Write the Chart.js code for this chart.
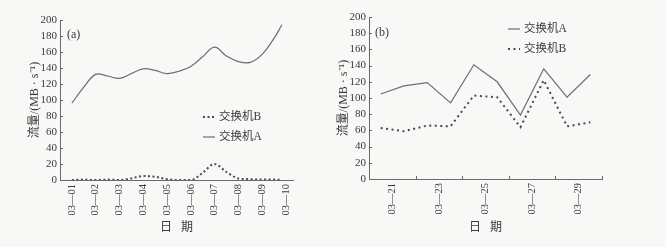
<!DOCTYPE html>
<html>
<head>
<meta charset="utf-8">
<script src="https://cdn.jsdelivr.net/npm/chart.js@4.4.1/dist/chart.umd.min.js"></script>
<style>
  html, body { margin: 0; padding: 0; background: #f8f8f7; }
  .panel { position: absolute; top: 0; width: 333px; height: 247px; }
  #wrapA { left: 0; }
  #wrapB { left: 333px; }
</style>
</head>
<body>
<div class="panel" id="wrapA"><canvas id="chartA" width="333" height="247"></canvas></div>
<div class="panel" id="wrapB"><canvas id="chartB" width="333" height="247"></canvas></div>
<script>
/* ================================
   Data - panel (a)
================================ */
// hours since 03-01 00:00
const hoursA = [0, 12, 24, 36, 48, 60, 72, 84, 96, 108, 120, 132, 144, 156, 168, 180, 192, 204, 212];
const trafficA_a = [96, 116, 132, 130, 127, 133, 139, 137, 133, 136, 142, 154, 166, 155, 148, 147, 157, 177, 194];
const trafficB_a = [0, 0.5, 0, 0.5, 0, 2, 5, 4, 1, 0, 0, 9, 20, 10, 2, 1, 0.5, 0.5, 0];
const tickDaysA = [1, 2, 3, 4, 5, 6, 7, 8, 9, 10];
const tickLabelsA = ["03—01", "03—02", "03—03", "03—04", "03—05", "03—06", "03—07", "03—08", "03—09", "03—10"];

/* ================================
   Data - panel (b)
================================ */
const daysB = [20, 21, 22, 23, 24, 25, 26, 27, 28, 29];
const trafficA_b = [105, 115, 119, 94, 141, 120, 79, 136, 101, 129];
const trafficB_b = [63, 59, 66, 65, 103, 101, 64, 122, 65, 70];
const tickDaysB = [21, 23, 25, 27, 29];
const tickLabelsB = ["03—21", "03—23", "03—25", "03—27", "03—29"];
const minorDaysB = [22, 24, 26, 28, 30];

const yTitle = "流量/(MB · s⁻¹)";
const xTitle = "日   期";

/* ================================
   Style
================================ */
const FONT = "'Liberation Serif', 'Noto Sans CJK SC', serif";
const TEXT = "#3a3a3a";
const AXIS = "#6a6a6a";

/* ================================
   Plugin: inward ticks, legend, panel letter
================================ */
const decorations = {
  id: "decorations",
  afterDraw(chart, args, opts) {
    const { ctx, chartArea, scales } = chart;
    ctx.save();
    ctx.strokeStyle = AXIS;
    ctx.lineWidth = 1;

    scales.y.ticks.forEach(t => {
      const y = Math.round(scales.y.getPixelForValue(t.value)) + 0.5;
      ctx.beginPath();
      ctx.moveTo(chartArea.left, y);
      ctx.lineTo(chartArea.left + 3, y);
      ctx.stroke();
    });

    (opts.xMinor || []).forEach(v => {
      const x = Math.round(scales.x.getPixelForValue(v)) + 0.5;
      ctx.beginPath();
      ctx.moveTo(x, chartArea.bottom);
      ctx.lineTo(x, chartArea.bottom - 3);
      ctx.stroke();
    });

    ctx.fillStyle = TEXT;
    ctx.textBaseline = "middle";
    ctx.font = "12px " + FONT;
    ctx.fillText(opts.letter, opts.letterX, opts.letterY);

    // legend rows
    ctx.font = "11.5px " + FONT;
    opts.legendOrder.forEach((idx, i) => {
      const ds = chart.data.datasets[idx];
      const y = opts.legendY + i * 20;
      ctx.save();
      ctx.strokeStyle = ds.borderColor;
      ctx.lineWidth = ds.borderWidth;
      ctx.setLineDash(ds.borderDash || []);
      ctx.beginPath();
      ctx.moveTo(opts.legendX, y);
      ctx.lineTo(opts.legendX + 12, y);
      ctx.stroke();
      ctx.restore();
      ctx.fillText(ds.label, opts.legendX + 16, y);
    });
    ctx.restore();
  }
};

/* ================================
   Builder
================================ */
function makeChart(id, cfg) {
  return new Chart(document.getElementById(id), {
    type: "line",
    data: { datasets: cfg.datasets },
    options: {
      responsive: false,
      animation: false,
      layout: { padding: cfg.padding },
      plugins: {
        legend: { display: false },
        tooltip: { enabled: false },
        decorations: cfg.deco
      },
      elements: { point: { radius: 0 } },
      scales: {
        x: {
          type: "linear",
          min: cfg.xMin,
          max: cfg.xMax,
          afterBuildTicks: s => { s.ticks = cfg.tickDays.map(v => ({ value: v })); },
          afterFit: s => { s.height = cfg.xHeight; },
          grid: { display: false, drawTicks: false },
          border: { display: true, color: AXIS, width: 1 },
          ticks: {
            autoSkip: false,
            minRotation: 90,
            maxRotation: 90,
            padding: 4,
            color: TEXT,
            font: { family: FONT, size: 10.5 },
            callback: (v, i) => cfg.tickLabels[i]
          },
          title: {
            display: true,
            text: xTitle,
            color: TEXT,
            font: { family: FONT, size: 12 },
            padding: { top: 0, bottom: 12 }
          }
        },
        y: {
          min: 0,
          max: 200,
          afterFit: s => { s.width = cfg.yWidth; },
          grid: { display: false, drawTicks: false },
          border: { display: true, color: AXIS, width: 1 },
          ticks: {
            stepSize: 20,
            autoSkip: false,
            padding: 3,
            color: TEXT,
            font: { family: FONT, size: 11 }
          },
          title: {
            display: true,
            text: yTitle,
            color: TEXT,
            font: { family: FONT, size: 12 },
            padding: { top: cfg.yTitlePad, bottom: 0 }
          }
        }
      }
    },
    plugins: [decorations]
  });
}

/* ================================
   Panel (a)
================================ */
makeChart("chartA", {
  padding: { left: 0, right: 40, top: 20, bottom: 0 },
  xMin: 0.5,
  xMax: 10.3,
  xHeight: 67,
  yWidth: 60,
  yTitlePad: 28,
  tickDays: tickDaysA,
  tickLabels: tickLabelsA,
  datasets: [
    {
      label: "交换机A",
      data: hoursA.map((h, i) => ({ x: 1 + h / 24, y: trafficA_a[i] })),
      borderColor: "#6e6e6e",
      borderWidth: 1.2,
      tension: 0.4
    },
    {
      label: "交换机B",
      data: hoursA.map((h, i) => ({ x: 1 + h / 24, y: trafficB_a[i] })),
      borderColor: "#4a4a4a",
      borderWidth: 2,
      borderDash: [2, 2.5],
      cubicInterpolationMode: "monotone"
    }
  ],
  deco: {
    letter: "(a)", letterX: 67, letterY: 35,
    legendX: 203, legendY: 117, legendOrder: [1, 0]
  }
});

/* ================================
   Panel (b)
================================ */
makeChart("chartB", {
  padding: { left: 0, right: 64, top: 17, bottom: 0 },
  xMin: 20,
  xMax: 30,
  xHeight: 68,
  yWidth: 36,
  yTitlePad: 4,
  tickDays: tickDaysB,
  tickLabels: tickLabelsB,
  datasets: [
    {
      label: "交换机A",
      data: daysB.map((d, i) => ({ x: d + 0.5, y: trafficA_b[i] })),
      borderColor: "#6e6e6e",
      borderWidth: 1.2,
      tension: 0
    },
    {
      label: "交换机B",
      data: daysB.map((d, i) => ({ x: d + 0.5, y: trafficB_b[i] })),
      borderColor: "#4a4a4a",
      borderWidth: 2,
      borderDash: [2, 3.5],
      tension: 0
    }
  ],
  deco: {
    letter: "(b)", letterX: 42, letterY: 33,
    legendX: 175, legendY: 29, legendOrder: [0, 1],
    xMinor: minorDaysB
  }
});
</script>
</body>
</html>
